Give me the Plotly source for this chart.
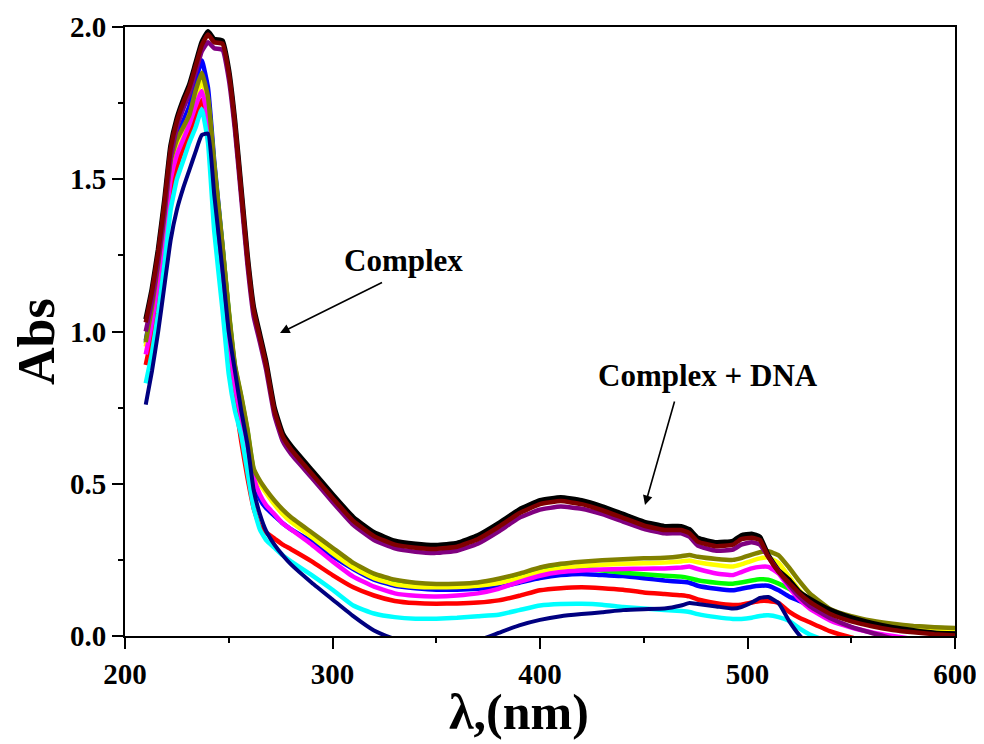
import plotly.graph_objects as go

# wavelength grid (nm)
wl = [210, 213, 216, 219, 222, 225, 228, 231, 234, 237, 240, 243, 247, 250, 253, 256, 259, 262, 265, 268,
      272, 276, 280, 290, 300, 310, 320, 330, 340, 350, 360, 370, 380, 390, 400, 410, 420, 430, 440, 450,
      460, 468, 472, 476, 485, 493, 497, 502, 506, 510, 515, 520, 525, 530, 540, 550, 560, 570, 580, 590, 600]

# Complex (free) spectra
black = [1.04, 1.14, 1.27, 1.43, 1.61, 1.70, 1.76, 1.81, 1.88, 1.95, 1.985, 1.96, 1.955, 1.86, 1.69, 1.47, 1.25, 1.08, 0.99, 0.90,
         0.75, 0.665, 0.625, 0.545, 0.465, 0.39, 0.34, 0.312, 0.302, 0.298, 0.305, 0.33, 0.37, 0.415, 0.445, 0.455, 0.445, 0.425, 0.40, 0.375,
         0.36, 0.36, 0.35, 0.322, 0.307, 0.312, 0.33, 0.335, 0.325, 0.265, 0.215, 0.185, 0.145, 0.122, 0.085, 0.06, 0.042, 0.028, 0.018, 0.01, 0.007]
maroon = [1.03, 1.13, 1.26, 1.42, 1.60, 1.69, 1.75, 1.80, 1.87, 1.94, 1.975, 1.95, 1.945, 1.85, 1.68, 1.46, 1.24, 1.07, 0.98, 0.89,
          0.74, 0.655, 0.613, 0.533, 0.453, 0.378, 0.328, 0.30, 0.29, 0.286, 0.293, 0.318, 0.358, 0.403, 0.433, 0.443, 0.433, 0.413, 0.388, 0.363,
          0.348, 0.348, 0.338, 0.31, 0.295, 0.30, 0.318, 0.323, 0.315, 0.26, 0.21, 0.175, 0.14, 0.112, 0.072, 0.048, 0.032, 0.02, 0.012, 0.006, 0.002]
purple = [1.00, 1.10, 1.23, 1.39, 1.57, 1.67, 1.73, 1.78, 1.85, 1.92, 1.95, 1.93, 1.925, 1.83, 1.66, 1.44, 1.22, 1.05, 0.965, 0.875,
          0.725, 0.64, 0.598, 0.52, 0.44, 0.365, 0.315, 0.288, 0.277, 0.273, 0.28, 0.303, 0.343, 0.388, 0.415, 0.425, 0.418, 0.40, 0.376, 0.352,
          0.337, 0.337, 0.326, 0.297, 0.28, 0.284, 0.30, 0.308, 0.30, 0.26, 0.212, 0.168, 0.128, 0.098, 0.058, 0.03, 0.01, -0.008, -0.02, -0.03, -0.04]

# Complex + DNA spectra
olive = [0.965, 1.08, 1.22, 1.38, 1.56, 1.63, 1.67, 1.71, 1.79, 1.85, 1.77, 1.55, 1.28, 1.07, 0.89, 0.79, 0.68, 0.55, 0.51, 0.48,
         0.445, 0.415, 0.39, 0.34, 0.29, 0.24, 0.205, 0.185, 0.175, 0.171, 0.172, 0.176, 0.188, 0.205, 0.225, 0.237, 0.244, 0.249, 0.252, 0.255,
         0.257, 0.262, 0.266, 0.26, 0.253, 0.25, 0.256, 0.267, 0.275, 0.278, 0.265, 0.225, 0.18, 0.14, 0.088, 0.065, 0.05, 0.04, 0.033, 0.029, 0.026]
yellow = [0.95, 1.06, 1.20, 1.36, 1.53, 1.61, 1.66, 1.71, 1.77, 1.82, 1.75, 1.53, 1.26, 1.05, 0.87, 0.77, 0.66, 0.535, 0.50, 0.47,
          0.432, 0.40, 0.375, 0.325, 0.272, 0.225, 0.19, 0.17, 0.162, 0.16, 0.161, 0.165, 0.174, 0.19, 0.21, 0.222, 0.23, 0.234, 0.237, 0.239,
          0.241, 0.245, 0.248, 0.242, 0.233, 0.228, 0.235, 0.247, 0.255, 0.258, 0.24, 0.195, 0.15, 0.115, 0.075, 0.055, 0.043, 0.035, 0.029, 0.025, 0.022]
green = [0.96, 1.075, 1.215, 1.375, 1.555, 1.625, 1.665, 1.705, 1.78, 1.83, 1.76, 1.545, 1.275, 1.065, 0.885, 0.785, 0.675, 0.545, 0.505, 0.475,
         0.44, 0.41, 0.386, 0.336, 0.286, 0.236, 0.201, 0.181, 0.171, 0.167, 0.168, 0.172, 0.184, 0.20, 0.218, 0.226, 0.222, 0.215, 0.208, 0.203,
         0.198, 0.195, 0.19, 0.183, 0.175, 0.172, 0.176, 0.182, 0.186, 0.185, 0.172, 0.155, 0.135, 0.115, 0.08, 0.058, 0.045, 0.037, 0.031, 0.027, 0.024]
blue = [0.97, 1.085, 1.225, 1.385, 1.565, 1.64, 1.69, 1.74, 1.82, 1.89, 1.80, 1.56, 1.28, 1.06, 0.88, 0.77, 0.64, 0.52, 0.45, 0.42,
        0.395, 0.37, 0.35, 0.31, 0.262, 0.22, 0.185, 0.165, 0.157, 0.152, 0.152, 0.155, 0.16, 0.175, 0.19, 0.20, 0.204, 0.20, 0.197, 0.19,
        0.182, 0.178, 0.175, 0.165, 0.155, 0.15, 0.155, 0.162, 0.165, 0.165, 0.15, 0.13, 0.115, 0.10, 0.075, 0.055, 0.042, 0.033, 0.027, 0.023, 0.02]
magenta = [0.925, 1.03, 1.17, 1.33, 1.50, 1.58, 1.63, 1.68, 1.74, 1.79, 1.70, 1.48, 1.20, 0.99, 0.82, 0.72, 0.62, 0.52, 0.465, 0.43,
           0.40, 0.37, 0.35, 0.30, 0.245, 0.195, 0.162, 0.14, 0.132, 0.13, 0.133, 0.14, 0.155, 0.178, 0.198, 0.21, 0.215, 0.218, 0.22, 0.221,
           0.222, 0.225, 0.228, 0.22, 0.205, 0.20, 0.21, 0.222, 0.227, 0.227, 0.205, 0.16, 0.12, 0.09, 0.05, 0.028, 0.012, 0.0, -0.01, -0.02, -0.03]
red = [0.89, 0.99, 1.12, 1.28, 1.46, 1.54, 1.60, 1.65, 1.71, 1.76, 1.68, 1.45, 1.17, 0.96, 0.78, 0.64, 0.52, 0.42, 0.36, 0.34,
       0.32, 0.30, 0.285, 0.245, 0.20, 0.16, 0.133, 0.115, 0.108, 0.106, 0.107, 0.11, 0.117, 0.132, 0.15, 0.157, 0.16, 0.157, 0.152, 0.143,
       0.138, 0.134, 0.13, 0.12, 0.108, 0.102, 0.103, 0.11, 0.115, 0.115, 0.108, 0.08, 0.06, 0.045, 0.015, -0.005, -0.02, -0.03, -0.04, -0.05, -0.06]
cyan = [0.83, 0.93, 1.06, 1.22, 1.40, 1.50, 1.56, 1.62, 1.67, 1.73, 1.62, 1.33, 1.07, 0.86, 0.74, 0.66, 0.54, 0.42, 0.35, 0.315,
        0.29, 0.265, 0.245, 0.20, 0.152, 0.10, 0.074, 0.062, 0.057, 0.057, 0.06, 0.065, 0.07, 0.085, 0.10, 0.105, 0.106, 0.103, 0.095, 0.09,
        0.085, 0.082, 0.079, 0.072, 0.062, 0.056, 0.056, 0.06, 0.066, 0.068, 0.062, 0.05, 0.025, 0.005, -0.02, -0.04, -0.05, -0.06, -0.07, -0.08, -0.09]
navy = [0.76, 0.87, 1.00, 1.15, 1.30, 1.40, 1.47, 1.53, 1.59, 1.645, 1.65, 1.45, 1.20, 1.00, 0.87, 0.74, 0.63, 0.48, 0.40, 0.345,
        0.30, 0.265, 0.235, 0.175, 0.12, 0.065, 0.018, -0.01, -0.03, -0.035, -0.03, -0.015, 0.01, 0.035, 0.053, 0.065, 0.072, 0.078, 0.085, 0.088,
        0.09, 0.10, 0.108, 0.105, 0.097, 0.09, 0.095, 0.11, 0.125, 0.128, 0.108, 0.05, 0.003, -0.03, -0.06, -0.08, -0.1, -0.1, -0.1, -0.1, -0.1]

x_ticks = [200, 300, 400, 500, 600]
y_ticks = [0.0, 0.5, 1.0, 1.5, 2.0]

series = [
    (red, "#FF0000", 4.5), (blue, "#0000FF", 4.5), (green, "#00FF00", 4.5), (yellow, "#FFFF00", 4.5),
    (magenta, "#FF00FF", 4.5), (cyan, "#00FFFF", 4.5), (olive, "#808000", 4.5), (navy, "#000080", 4),
    (black, "#000000", 5), (purple, "#800080", 4.5), (maroon, "#800000", 4.5),
]

FONT = "Liberation Serif, Times New Roman, serif"
fig = go.Figure()
for ys, col, w in series:
    fig.add_trace(go.Scatter(x=wl, y=ys, mode="lines", line=dict(color=col, width=w, shape="spline", smoothing=0.4),
                             showlegend=False))

# page has an 8px body margin, so the figure is sized/offset to compensate
fig.update_layout(
    width=976, height=736, paper_bgcolor="white", plot_bgcolor="white",
    margin=dict(l=117, r=29, t=19, b=108, autoexpand=False),
    font=dict(family=FONT, color="black"),
)
fig.update_xaxes(
    range=[200, 600], tickvals=x_ticks, ticktext=[str(v) for v in x_ticks], automargin=False,
    showgrid=False, zeroline=False, showline=True, linecolor="black", linewidth=2, mirror=True,
    ticks="outside", ticklen=11, tickwidth=2, tickcolor="black",
    minor=dict(ticks="outside", ticklen=5, tickwidth=2, tickcolor="black", dtick=50, tick0=200, showgrid=False),
    tickfont=dict(family=FONT, size=29, color="black", weight="bold"),
)
fig.update_yaxes(
    range=[0, 2.0], tickvals=y_ticks, ticktext=["%.1f" % v for v in y_ticks], automargin=False,
    showgrid=False, zeroline=False, showline=True, linecolor="black", linewidth=2, mirror=True,
    ticks="outside", ticklen=11, tickwidth=2, tickcolor="black",
    minor=dict(ticks="outside", ticklen=5, tickwidth=2, tickcolor="black", dtick=0.25, tick0=0, showgrid=False),
    tickfont=dict(family=FONT, size=29, color="black", weight="bold"),
)

# axis titles
fig.add_annotation(x=(519 - 125) / 830, y=-76 / 609, xref="paper", yref="paper", text="<b>λ,(nm)</b>",
                   showarrow=False, font=dict(family=FONT, size=50, color="black"), xanchor="center", yanchor="middle")
fig.add_annotation(x=-88 / 830, y=(636 - 342) / 609, xref="paper", yref="paper", text="<b>Abs</b>", textangle=-90,
                   showarrow=False, font=dict(family=FONT, size=52, color="black"), xanchor="center", yanchor="middle")

fig.add_annotation(x=334, y=1.232, xref="x", yref="y", text="<b>Complex</b>", showarrow=False,
                   font=dict(family=FONT, size=31, color="black"))
fig.add_annotation(x=481, y=0.854, xref="x", yref="y", text="<b>Complex + DNA</b>", showarrow=False,
                   font=dict(family=FONT, size=31, color="black"))
fig.add_annotation(x=274.7, y=0.995, ax=325.3, ay=1.166, xref="x", yref="y", axref="x", ayref="y",
                   text=" ", showarrow=True, arrowhead=2, arrowsize=1.2, arrowwidth=1.6, arrowcolor="black")
fig.add_annotation(x=450.6, y=0.43, ax=466, ay=0.798, xref="x", yref="y", axref="x", ayref="y",
                   text=" ", showarrow=True, arrowhead=2, arrowsize=1.2, arrowwidth=1.6, arrowcolor="black")

fig.write_html("out.html")
